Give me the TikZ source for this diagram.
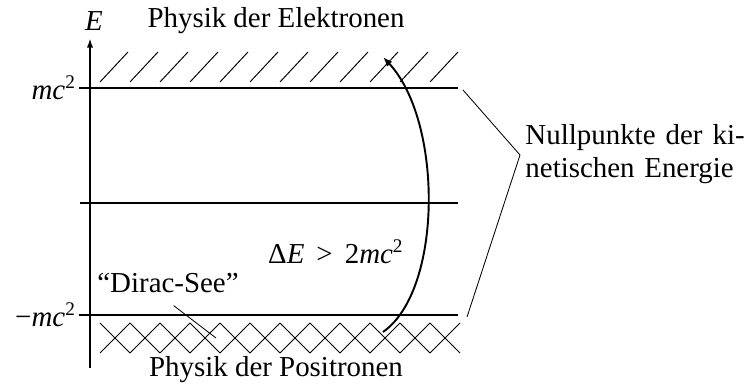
\documentclass[tikz,border=0pt]{standalone}
\usepackage{fontspec}
\setmainfont{Liberation Serif}
\usetikzlibrary{arrows.meta,positioning}

\begin{document}
\begin{tikzpicture}[x=0.415pt,y=-0.415pt,font=\fontsize{12}{14}\selectfont,
  level/.style={line width=0.8pt},
  hatch/.style={line width=0.4pt},
  pointer/.style={line width=0.35pt}
]
  \useasboundingbox (0,0) rectangle (752,387);
  % axis
  \coordinate (axbot) at (90,368);
  \coordinate (axtop) at (90,38);
  \draw[level,-{Latex[length=4pt,width=2.6pt]}] (axbot) -- (axtop);
  \node (E) at (94,21) {\textit{E}};
  % levels
  \node[anchor=east,inner sep=1pt] (mc) at (79,88) {\textit{mc}\textsuperscript{2}};
  \node[anchor=east,inner sep=1pt] (mmc) at (79,315) {−\textit{mc}\textsuperscript{2}};
  \coordinate (mcR) at (458,88);
  \coordinate (nullL) at (80,203);
  \coordinate (nullR) at (458,203);
  \coordinate (mmcR) at (458,315);
  \draw[level] (mc.east) -- (mcR);
  \draw[level] (nullL) -- (nullR);
  \draw[level] (mmc.east) -- (mmcR);
  % filled regions
  \foreach \i in {0,...,11}
    \draw[hatch] (100+30*\i,82) -- ++(28,-30);
  \foreach \i in {0,...,11} {
    \draw[hatch] (100+30*\i,323) -- ++(30,30);
    \draw[hatch] (100+30*\i,353) -- ++(30,-30);
  }
  \node (elek) at (276,21) {Physik der Elektronen};
  \node (posi) at (276,370) {Physik der Positronen};
  % transition
  \coordinate (arrbot) at (383,332);
  \coordinate (arrtop) at (383,57);
  \draw[level,-{Latex[length=4pt,width=3pt]}] (arrbot) .. controls (443,290) and (443,121) .. (arrtop);
  \node (dE) at (336,252) {Δ\textit{E} \,>\, 2\textit{mc}\textsuperscript{2}};
  % Dirac sea
  \node (dirac) at (168,283) {``Dirac-See''};
  \coordinate (seept) at (216,338);
  \draw[pointer,shorten <=3pt] (dirac.south) -- (seept);
  % zero points
  \node[anchor=west,text width=91pt,align=left,inner sep=0pt] (null) at (525,154)
    {Nullpunkte\hfill der\hfill ki-\\netischen Energie};
  \coordinate (knick) at (520,155);
  \coordinate (ntop) at (463,90);
  \coordinate (nbot) at (467,317);
  \draw[pointer] (ntop) -- (knick) -- (nbot);
\end{tikzpicture}
\end{document}
